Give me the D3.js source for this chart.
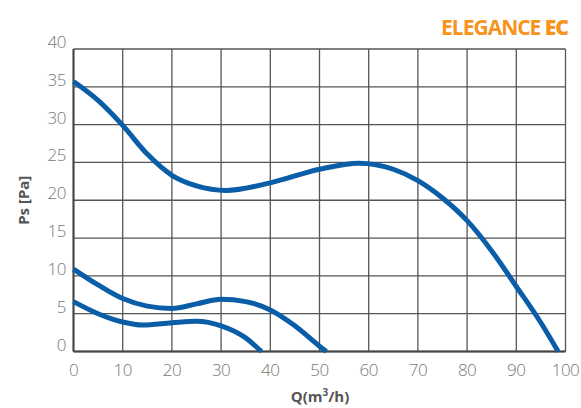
<!DOCTYPE html>
<html lang="en">
<head>
  <meta charset="UTF-8">
  <title>Elegance EC</title>
  <script src="https://d3js.org/d3.v7.min.js"></script>
  <style>
    body { margin: 0; background: #fff; }
    svg { font-family: "Open Sans", "Noto Sans", sans-serif; }
  </style>
</head>
<body>
  <svg id="chart" width="581" height="408"></svg>
  <script>
    // tick labels
    const xTicks = [0, 10, 20, 30, 40, 50, 60, 70, 80, 90, 100];
    const yTicks = [0, 5, 10, 15, 20, 25, 30, 35, 40];

    // curves: [Q, Ps]
    const curveHigh = [[0, 35.7], [5, 33.2], [10, 29.9], [15, 26.1], [20, 23.3], [25, 21.9], [31, 21.3],
      [40, 22.3], [50, 24.1], [58, 24.9], [65, 24.1], [70, 22.6], [75, 20.3], [80, 17.3],
      [85, 13.3], [90, 8.6], [95, 3.8], [98.5, 0]];
    const curveMid = [[0, 10.9], [5, 8.8], [10, 7.0], [15, 6.0], [20, 5.7], [25, 6.3], [30, 6.9],
      [35, 6.6], [40, 5.5], [45, 3.4], [50, 0.7], [51.4, 0]];
    const curveLow = [[0, 6.6], [5, 5.0], [10, 3.9], [14, 3.5], [20, 3.8], [25, 4.0], [30, 3.4],
      [35, 1.8], [38.2, 0]];

    const svg = d3.select("#chart");
    const plotLeft = 73.5, plotRight = 565.5, plotTop = 49, plotBottom = 351.5;

    const x = d3.scaleLinear().domain([0, 100]).range([plotLeft, plotRight]);
    const y = d3.scaleLinear().domain([0, 40]).range([plotBottom, plotTop]);

    // grid
    const grid = svg.append("g").attr("stroke", "#555").attr("stroke-width", 1.3);
    grid.selectAll("line.v").data(xTicks).enter().append("line")
      .attr("x1", d => x(d)).attr("x2", d => x(d))
      .attr("y1", plotTop).attr("y2", plotBottom);
    grid.selectAll("line.h").data(yTicks).enter().append("line")
      .attr("x1", plotLeft).attr("x2", plotRight)
      .attr("y1", d => y(d)).attr("y2", d => y(d));
    // axes a bit darker
    svg.append("line").attr("x1", plotLeft).attr("x2", plotLeft).attr("y1", plotTop).attr("y2", plotBottom)
      .attr("stroke", "#444").attr("stroke-width", 2);
    svg.append("line").attr("x1", plotLeft).attr("x2", plotRight).attr("y1", plotBottom).attr("y2", plotBottom)
      .attr("stroke", "#444").attr("stroke-width", 2);

    // tick labels
    svg.selectAll("text.xt").data(xTicks).enter().append("text")
      .attr("x", d => x(d)).attr("y", 376)
      .attr("text-anchor", "middle")
      .attr("font-size", 17).attr("font-weight", 300).attr("fill", "#777")
      .attr("letter-spacing", -0.5)
      .text(d => d);
    svg.selectAll("text.yt").data(yTicks).enter().append("text")
      .attr("x", 66).attr("y", d => y(d) - 1)
      .attr("text-anchor", "end")
      .attr("font-size", 17).attr("font-weight", 300).attr("fill", "#777")
      .attr("letter-spacing", -0.5)
      .text(d => d);

    // axis titles
    svg.append("text")
      .attr("transform", "translate(29," + ((plotTop + plotBottom) / 2) + ") rotate(-90)")
      .attr("text-anchor", "middle")
      .attr("font-size", 15).attr("font-weight", 700).attr("fill", "#555")
      .text("Ps [Pa]");
    const qt = svg.append("text")
      .attr("x", 320).attr("y", 402)
      .attr("text-anchor", "middle")
      .attr("font-size", 15).attr("font-weight", 700).attr("fill", "#555");
    qt.append("tspan").text("Q(m");
    qt.append("tspan").attr("font-size", 10).attr("dy", -6).text("3");
    qt.append("tspan").attr("dy", 6).text("/h)");

    // title
    const title = svg.append("text")
      .attr("x", 568).attr("y", 35)
      .attr("text-anchor", "end")
      .attr("font-size", 21).attr("fill", "#f7941d")
      .attr("letter-spacing", -1);
    title.append("tspan").attr("font-weight", 700).text("ELEGANCE ");
    title.append("tspan").attr("font-weight", 800).text("EC");

    // curves
    const line = d3.line()
      .x(d => x(d[0])).y(d => y(d[1]))
      .curve(d3.curveMonotoneX);
    [curveHigh, curveMid, curveLow].forEach(c => {
      svg.append("path").datum(c)
        .attr("d", line)
        .attr("fill", "none")
        .attr("stroke", "#0a5ea8")
        .attr("stroke-width", 5);
    });
  </script>
</body>
</html>
